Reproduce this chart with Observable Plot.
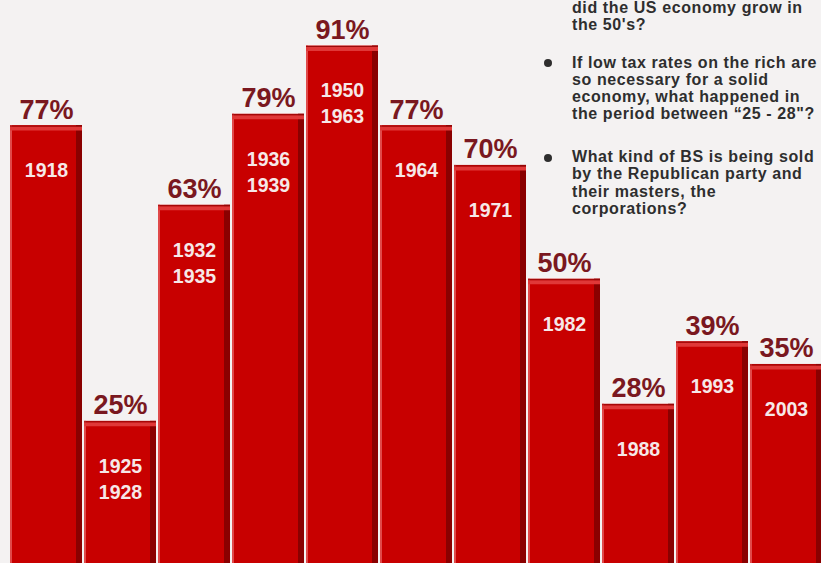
<!DOCTYPE html>
<html>
<head>
<meta charset="utf-8">
<script src="https://cdn.jsdelivr.net/npm/d3@7"></script>
<script src="https://cdn.jsdelivr.net/npm/@observablehq/plot@0.6"></script>
<style>
  html, body { margin: 0; padding: 0; background: #f4f2f2; overflow: hidden; }
  #wrap { position: relative; width: 821px; height: 563px; overflow: hidden; }
  #wrap svg { display: block; }
  .note { position: absolute; left: 572px; width: 260px; font-family: "Liberation Sans", Arial, sans-serif;
          font-weight: bold; font-size: 16px; line-height: 17.3px; letter-spacing: 0.6px; color: #2e2e2e; white-space: nowrap; }
  .bullet { position: absolute; width: 8px; height: 8px; border-radius: 50%; background: #2e2e2e; }
</style>
</head>
<body>
<div id="wrap"></div>
<script>
// Data
const periods = ["1918", "1925\n1928", "1932\n1935", "1936\n1939", "1950\n1963", "1964", "1971", "1982", "1988", "1993", "2003"];
const topRates = [77, 25, 63, 79, 91, 77, 70, 50, 28, 39, 35];
const notes = [
  ["did the US economy grow in", "the 50's?"],
  ["If low tax rates on the rich are", "so necessary for a solid", "economy, what happened in", "the period between \u201c25 - 28\"?"],
  ["What kind of BS is being sold", "by the Republican party and", "their masters, the", "corporations?"]
];

const data = periods.map((p, i) => ({period: p, rate: topRates[i]}));

const chart = Plot.plot({
  width: 821,
  height: 563,
  margin: 0,
  style: {background: "#f4f2f2", fontFamily: "'Liberation Sans', Arial, sans-serif"},
  x: {domain: periods, range: [10, 822], paddingInner: 0.03, paddingOuter: 0, axis: null},
  y: {domain: [0, 99], axis: null},
  marks: [
    Plot.barY(data, {x: "period", y: "rate", fill: "#c80000"}),
    Plot.barY(data, {x: "period", y: "rate", fill: "#8a0000", insetLeft: 66}),
    Plot.barY(data, {x: "period", y: "rate", fill: "#e04a4a", insetRight: 70}),
    Plot.tickY(data, {x: "period", y: "rate", stroke: "#e03838", strokeWidth: 4, dy: 3}),
    Plot.tickY(data, {x: "period", y: "rate", stroke: "#9a0a0a", strokeWidth: 1, dy: 0.5}),
    Plot.text(data, {x: "period", y: "rate", text: d => d.rate + "%", dy: -7, lineAnchor: "bottom",
      fontSize: 27, fontWeight: "bold", fill: "#7a1820"}),
    Plot.text(data, {x: "period", y: "rate", text: "period", dy: 33, lineAnchor: "top", lineHeight: 1.33,
      fontSize: 19.5, fontWeight: "bold", fill: "#f6e8e8"})
  ]
});

const wrap = document.getElementById("wrap");
wrap.appendChild(chart);

const noteTops = [-1, 53.5, 148];
const bulletFlags = [false, true, true];
notes.forEach((lines, i) => {
  const div = document.createElement("div");
  div.className = "note";
  div.style.top = noteTops[i] + "px";
  div.innerHTML = lines.join("<br>");
  wrap.appendChild(div);
  if (bulletFlags[i]) {
    const b = document.createElement("div");
    b.className = "bullet";
    b.style.left = "544px";
    b.style.top = (noteTops[i] + 5.5) + "px";
    wrap.appendChild(b);
  }
});
</script>
</body>
</html>
